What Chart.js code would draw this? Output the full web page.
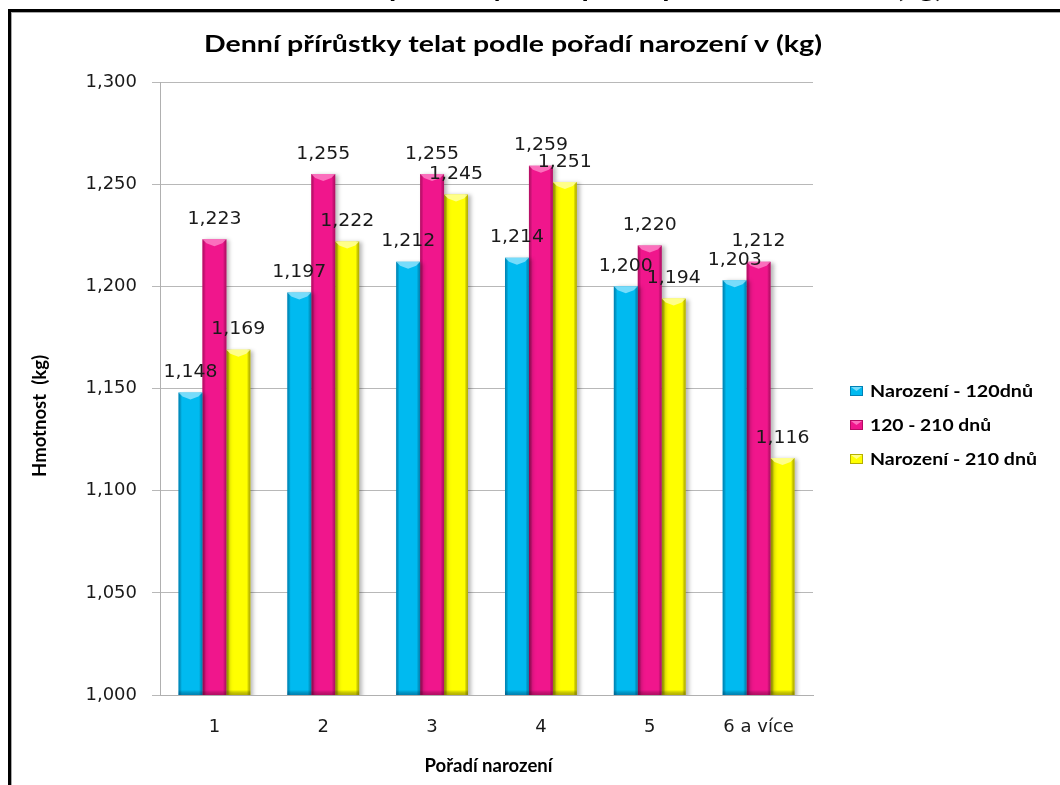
<!DOCTYPE html>
<html lang="cs">
<head>
<meta charset="utf-8">
<title>Denní přírůstky telat podle pořadí narození</title>
<script src="https://cdn.jsdelivr.net/npm/chart.js@4.4.1/dist/chart.umd.min.js"></script>
<style>
  html, body { margin: 0; padding: 0; background: #fff; }
  #wrap { position: relative; width: 1060px; height: 785px; overflow: hidden; }
  canvas { position: absolute; left: 0; top: 0; }
</style>
</head>
<body>
<div id="wrap"><canvas id="chart" width="1060" height="785"></canvas></div>
<script>
// Pořadí narození (kategorie na ose X)
const categories = ['1', '2', '3', '4', '5', '6 a více'];

// Denní přírůstky (kg) pro jednotlivá období
const birthTo120 = [1.148, 1.197, 1.212, 1.214, 1.200, 1.203];
const from120To210 = [1.223, 1.255, 1.255, 1.259, 1.220, 1.212];
const birthTo210 = [1.169, 1.222, 1.245, 1.251, 1.194, 1.116];

const seriesNames = ['Narození - 120dnů', '120 - 210 dnů', 'Narození - 210 dnů'];

// Osa Y
const yMin = 1.0;
const yMax = 1.3;
const yStep = 0.05;

const chartTitle = 'Denní přírůstky telat podle pořadí narození v (kg)';
const pageHeading = 'Denní přírůstky telat podle pořadí narození v (kg)';
const yAxisTitle = 'Hmotnost  (kg)';
const xAxisTitle = 'Pořadí narození';

const fmt = v => v.toFixed(3).replace('.', ',');

const palette = [
  { fill: '#00BAF0', edge: 'rgba(0,60,110,0.45)', cap: 'rgba(170,235,255,0.7)' },
  { fill: '#F0168C', edge: 'rgba(110,0,50,0.45)', cap: 'rgba(255,150,210,0.7)' },
  { fill: '#FFFF00', edge: 'rgba(120,110,0,0.55)', cap: 'rgba(255,255,170,0.8)' }
];

const NUM_FONT = '18px "DejaVu Sans", Verdana, sans-serif';
const BOLD_FONT = 'Lato, "Open Sans", sans-serif';

// Text roztažený vodorovně na zadanou šířku
function wideText(ctx, text, x, y, width, align) {
  const natural = ctx.measureText(text).width;
  const sx = width / natural;
  ctx.save();
  ctx.translate(x, y);
  ctx.scale(sx, 1);
  ctx.textAlign = align || 'center';
  ctx.fillText(text, 0, 0);
  ctx.restore();
}

// Rámeček, nadpis, popisky os, legenda a hodnoty nad sloupci
const decorations = {
  id: 'decorations',
  beforeDraw(chart) {
    const ctx = chart.ctx;
    ctx.save();
    ctx.fillStyle = '#fff';
    ctx.fillRect(0, 0, chart.width, chart.height);
    // nadpis stránky nad rámečkem
    ctx.fillStyle = '#000';
    ctx.font = 'bold 26px ' + BOLD_FONT;
    ctx.textBaseline = 'alphabetic';
    wideText(ctx, pageHeading, 623, -3, 640, 'center');
    // rámeček grafu
    ctx.fillStyle = '#000';
    ctx.fillRect(8, 9, chart.width, 3);
    ctx.fillRect(8, 9, 3, chart.height);
    ctx.fillStyle = '#a8a8a8';
    ctx.fillRect(11, 12, chart.width, 1);
    ctx.fillRect(11, 12, 1, chart.height);
    ctx.restore();
  },
  beforeDatasetsDraw(chart) {
    const ctx = chart.ctx;
    ctx.save();
    ctx.shadowColor = 'rgba(0,0,0,0.28)';
    ctx.shadowBlur = 4;
    ctx.shadowOffsetX = 3;
    ctx.shadowOffsetY = 1;
  },
  afterDatasetsDraw(chart) {
    const ctx = chart.ctx;
    const area = chart.chartArea;
    ctx.restore();
    ctx.save();
    ctx.beginPath();
    ctx.rect(area.left, area.top, area.right - area.left, area.bottom - area.top);
    ctx.clip();
    // plastický vzhled sloupců
    chart.data.datasets.forEach((ds, di) => {
      const meta = chart.getDatasetMeta(di);
      const p = palette[di];
      meta.data.forEach(bar => {
        const w = bar.width;
        const l = bar.x - w / 2;
        const r = bar.x + w / 2;
        const t = bar.y;
        const b = Math.min(bar.base, area.bottom);
        const g = ctx.createLinearGradient(l, 0, r, 0);
        g.addColorStop(0, p.edge);
        g.addColorStop(0.14, 'rgba(0,0,0,0)');
        g.addColorStop(0.86, 'rgba(0,0,0,0)');
        g.addColorStop(1, p.edge);
        ctx.fillStyle = g;
        ctx.fillRect(l, t, w, b - t);
        // horní zkosení
        ctx.fillStyle = p.cap;
        ctx.beginPath();
        ctx.moveTo(l, t);
        ctx.lineTo(r, t);
        ctx.lineTo(r - 4, t + 4);
        ctx.lineTo(bar.x, t + 7);
        ctx.lineTo(l + 4, t + 4);
        ctx.closePath();
        ctx.fill();
        // spodní hrana
        const gb = ctx.createLinearGradient(0, b - 5, 0, b);
        gb.addColorStop(0, 'rgba(0,0,0,0)');
        gb.addColorStop(1, p.edge);
        ctx.fillStyle = gb;
        ctx.fillRect(l, b - 5, w, 5);
      });
    });
    ctx.restore();
  },
  afterDraw(chart) {
    const ctx = chart.ctx;
    const area = chart.chartArea;
    ctx.save();
    // hodnoty nad sloupci
    ctx.font = NUM_FONT;
    ctx.fillStyle = '#1a1a1a';
    ctx.textAlign = 'center';
    ctx.textBaseline = 'middle';
    chart.data.datasets.forEach((ds, di) => {
      const meta = chart.getDatasetMeta(di);
      meta.data.forEach((bar, i) => {
        wideText(ctx, fmt(ds.data[i]), bar.x, bar.y - 20, 54, 'center');
      });
    });
    // titulek
    ctx.font = 'bold 22px ' + BOLD_FONT;
    ctx.fillStyle = '#000';
    wideText(ctx, chartTitle, 513, 45, 618, 'center');
    // popisek osy X
    ctx.font = 'bold 19px ' + BOLD_FONT;
    wideText(ctx, xAxisTitle, (area.left + area.right) / 2 + 2, 766, 128, 'center');
    // popisek osy Y
    ctx.save();
    ctx.translate(40, 416);
    ctx.rotate(-Math.PI / 2);
    ctx.font = 'bold 18px ' + BOLD_FONT;
    wideText(ctx, yAxisTitle, 0, 0, 122, 'center');
    ctx.restore();
    // legenda
    ctx.font = 'bold 17px ' + BOLD_FONT;
    const legendWidths = [163, 121, 167];
    chart.data.datasets.forEach((ds, di) => {
      const y = 391 + di * 34;
      const p = palette[di];
      ctx.fillStyle = p.fill;
      ctx.fillRect(850, y - 5, 13, 10);
      ctx.strokeStyle = p.edge;
      ctx.lineWidth = 1;
      ctx.strokeRect(850.5, y - 4.5, 12, 9);
      ctx.fillStyle = p.cap;
      ctx.beginPath();
      ctx.moveTo(851, y - 4);
      ctx.lineTo(862, y - 4);
      ctx.lineTo(856.5, y);
      ctx.closePath();
      ctx.fill();
      ctx.fillStyle = '#000';
      wideText(ctx, ds.label, 870, y + 1, legendWidths[di], 'left');
    });
    ctx.restore();
  }
};

new Chart(document.getElementById('chart'), {
  type: 'bar',
  data: {
    labels: categories,
    datasets: [
      { label: seriesNames[0], data: birthTo120, backgroundColor: palette[0].fill },
      { label: seriesNames[1], data: from120To210, backgroundColor: palette[1].fill },
      { label: seriesNames[2], data: birthTo210, backgroundColor: palette[2].fill }
    ]
  },
  options: {
    responsive: false,
    animation: false,
    devicePixelRatio: 1,
    layout: { padding: { left: 0, top: 82, right: 247, bottom: 0 } },
    datasets: {
      bar: { categoryPercentage: 0.66, barPercentage: 1.0, borderWidth: 0 }
    },
    plugins: {
      legend: { display: false },
      title: { display: false },
      tooltip: { enabled: false }
    },
    scales: {
      x: {
        grid: { display: false },
        border: { display: true, color: '#b0b0b0', width: 1 },
        ticks: { color: '#1a1a1a', font: { family: '"DejaVu Sans", Verdana, sans-serif', size: 18 }, padding: 14 },
        afterFit(scale) { scale.height = 90; }
      },
      y: {
        min: yMin,
        max: yMax,
        grid: { color: '#b8b8b8', lineWidth: 1, tickLength: 8, drawTicks: true },
        border: { display: true, color: '#b0b0b0', width: 1 },
        ticks: {
          stepSize: yStep,
          padding: 15,
          color: '#1a1a1a',
          font: { family: '"DejaVu Sans", Verdana, sans-serif', size: 18 },
          callback: v => fmt(v)
        },
        afterFit(scale) { scale.width = 160; }
      }
    }
  },
  plugins: [decorations]
});
</script>
</body>
</html>
